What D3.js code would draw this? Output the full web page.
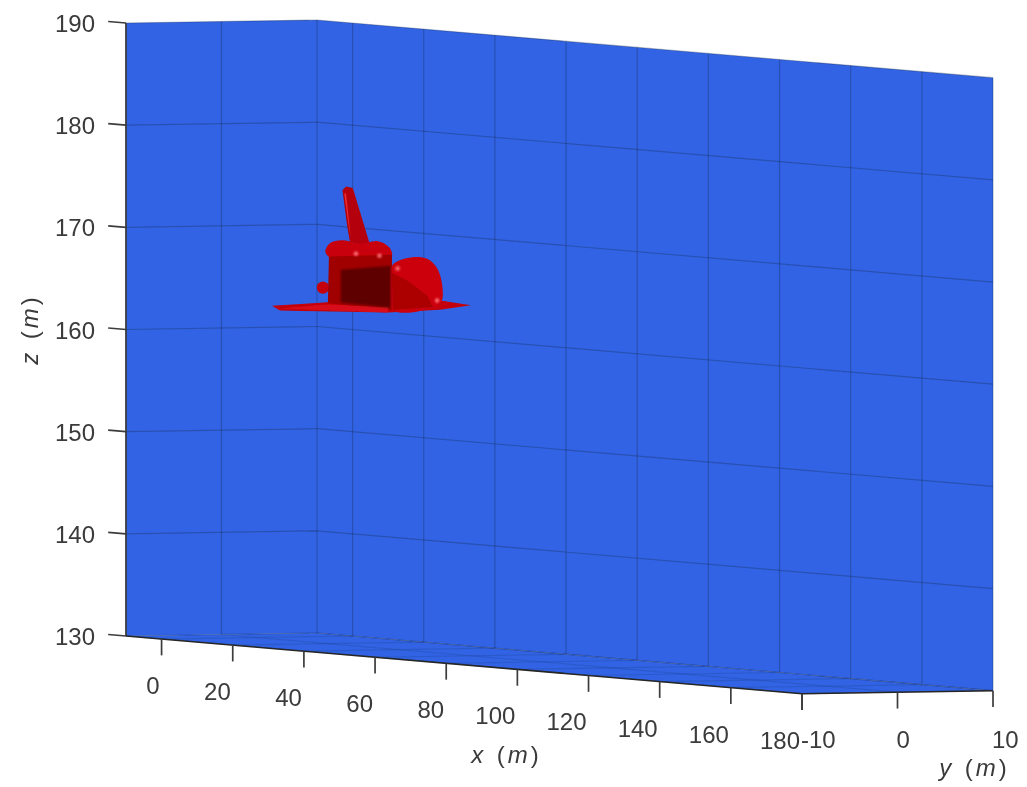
<!DOCTYPE html>
<html><head><meta charset="utf-8">
<script src="https://cdn.jsdelivr.net/npm/d3@7"></script>
<style>
html,body{margin:0;padding:0;background:#fff;overflow:hidden}
svg{display:block}
text{font-family:"Liberation Sans",Arial,sans-serif;fill:#3a3a3a}
</style></head><body>
<svg id="c" width="1027" height="787"></svg>
<script>
const xLim=[-10,180], yLim=[-10,10], zLim=[130,190];
const xTicks=[0,20,40,60,80,100,120,140,160,180];
const yTicks=[-10,0,10];
const zTicks=[130,140,150,160,170,180,190];

// Shuttle outlines on the plane y = 0, each point [x (m), z (m)]
const wing=[[4.2,162.6],[19.7,163.4],[40.2,163.9],[52,164.5],[60.1,164.3],[51.4,163.6],[36.8,162.9],[6.4,162.2]];
const wingShade=[[6.4,162.4],[20,163.2],[36.8,163.4],[36.8,162.9]];
const fin=[[24,174.5],[25,174.9],[26.9,174.8],[31.9,169.2],[26.1,169.5],[25.3,171.1]];
const finEdge=[[24.5,174.2],[25,174.2],[26.3,170],[25.7,171.2]];
const pods=[[19.2,168.3],[20.5,169.2],[24.2,169.6],[28.9,169.4],[34,169.8],[37.4,169.2],[37.8,168.4],[29.8,168],[21.1,167.7]];
const body=[[20.2,167.9],[19.9,163.3],[37.9,163.2],[37.9,168.6]];
const face=[[23.5,166.7],[37.6,167.5],[37.6,163.4],[23.5,163.5]];
const nose=[[37.7,167.4],[42.2,168.4],[47.8,168.5],[51,167.4],[52,164.6],[50.2,163.9],[38.2,163.2]];
const noseSide=[[37.9,166.8],[42.2,166.2],[47.8,164.9],[49.5,163.8],[38.2,163.2]];
const oms=[18.5,164.8];
const glints=[[27.8,168.4],[34.4,168.4],[50.6,164.5],[39.5,167.3]];

const sxX=d3.scaleLinear().domain(xLim).range([126,802]);
const sxY=d3.scaleLinear().domain(yLim).range([0,191]);
const syX=d3.scaleLinear().domain(xLim).range([636,693.7]);
const syY=d3.scaleLinear().domain(yLim).range([0,-3]);
const syZ=d3.scaleLinear().domain(zLim).range([0,-613]);
const P=(x,y,z)=>[sxX(x)+sxY(y),syX(x)+syY(y)+syZ(z)];

const svg=d3.select("#c");
const defs=svg.append("defs");
const blurF=(id,s)=>defs.append("filter").attr("id",id).attr("x","-20%").attr("y","-20%").attr("width","140%").attr("height","140%").append("feGaussianBlur").attr("stdDeviation",s);
blurF("soft",0.7);blurF("soft2",1.3);blurF("glow",1.2);blurF("page",0.45);
const root=svg.append("g").attr("filter","url(#page)");

const line=d3.line();
const round=d3.line().curve(d3.curveCatmullRomClosed.alpha(0.5));
const poly=(pts,fill,sel=root)=>sel.append("path").attr("d",line(pts)+"Z").attr("fill",fill);
const blob=(pts,fill,sel=root)=>sel.append("path").attr("d",round(pts)).attr("fill",fill);
const seg=(a,b,stroke,w,o=1,sel=root)=>sel.append("line").attr("x1",a[0]).attr("y1",a[1]).attr("x2",b[0]).attr("y2",b[1]).attr("stroke",stroke).attr("stroke-width",w).attr("stroke-opacity",o);

const [x0,x1]=xLim,[y0,y1]=yLim,[z0,z1]=zLim;
const BLUE="#3064e4";
poly([P(x0,y1,z0),P(x1,y1,z0),P(x1,y0,z0),P(x0,y0,z0)],BLUE);
poly([P(x0,y0,z0),P(x0,y1,z0),P(x0,y1,z1),P(x0,y0,z1)],BLUE);
poly([P(x0,y1,z0),P(x1,y1,z0),P(x1,y1,z1),P(x0,y1,z1)],BLUE);

const GRID="#1a2440",GO=0.3;
xTicks.forEach(x=>{
  seg(P(x,y0,z0),P(x,y1,z0),GRID,1.2,GO*0.5);
  seg(P(x,y1,z0),P(x,y1,z1),GRID,1.2,GO);
});
yTicks.forEach(y=>{
  seg(P(x0,y,z0),P(x1,y,z0),GRID,1.2,GO*0.5);
  seg(P(x0,y,z0),P(x0,y,z1),GRID,1.2,GO);
});
zTicks.forEach(z=>{
  seg(P(x0,y0,z),P(x0,y1,z),GRID,1.2,GO);
  seg(P(x0,y1,z),P(x1,y1,z),GRID,1.2,GO);
});

// Shuttle
const S=root.append("g").attr("filter","url(#soft)");
const onPlane=p=>P(p[0],0,p[1]);
const ball=onPlane(oms);
const ballR=Math.abs(syZ(0.6+z0)-syZ(z0));
S.append("circle").attr("cx",ball[0]).attr("cy",ball[1]).attr("r",ballR).attr("fill","#c4000a");
poly(wing.map(onPlane),"#c4000a",S);
poly(fin.map(onPlane),"#b40008",S);
poly(finEdge.map(onPlane),"#ee2c30",S);
blob(pods.map(onPlane),"#c8000a",S);
poly(body.map(onPlane),"#a00000",S);
blob(nose.map(onPlane),"#cc000c",S);
poly(noseSide.map(onPlane),"#ac0004",S);
poly(wingShade.map(onPlane),"#d8101a",S);
const D=root.append("g").attr("filter","url(#soft2)");
poly(face.map(onPlane),"#5e0000",D);
const G=root.append("g").attr("filter","url(#glow)");
glints.forEach(p=>{const q=onPlane(p);
  G.append("circle").attr("cx",q[0]).attr("cy",q[1]).attr("r",2.2).attr("fill","#ff7078");});

// Axes
const AX="#3c3c3c";
seg(P(x0,y0,z0),P(x0,y0,z1),AX,1.7);
seg(P(x0,y0,z0),P(x1,y0,z0),"#262626",1.6);
seg(P(x1,y0,z0),P(x1,y1,z0),"#262626",1.6);
const FS=24;
const label=(t,p,anchor)=>root.append("text").attr("x",p[0]).attr("y",p[1]).attr("text-anchor",anchor).attr("font-size",FS).text(t);
zTicks.forEach(z=>{
  const a=P(x0,y0,z),b=P(x0-5,y0,z);
  seg(a,b,AX,1.7);
  label(z,[95,a[1]+9],"end");
});
xTicks.forEach(x=>{
  const a=P(x,y0,z0),b=P(x,y0,z0-1.6);
  seg(a,b,AX,1.7);
  label(x,[a[0]-2,a[1]+55],"end");
});
yTicks.forEach(y=>{
  const a=P(x1,y,z0),b=P(x1,y,z0-1.6);
  seg(a,b,AX,1.7);
  label(y,[a[0]-1,748],"start");
});
const axisLabel=(v,p,rot)=>{
  const t=root.append("text").attr("font-size",FS).attr("text-anchor","middle")
    .attr("transform",`translate(${p[0]},${p[1]})${rot?` rotate(${rot})`:""}`);
  t.append("tspan").attr("font-style","italic").text(v);
  t.append("tspan").attr("dx",7).text(" (");
  t.append("tspan").attr("dx",3).attr("font-style","italic").text("m");
  t.append("tspan").attr("dx",3).text(")");
};
axisLabel("x",[505,763]);
axisLabel("y",[973,776]);
axisLabel("z",[38,331],-90);
</script></body></html>
